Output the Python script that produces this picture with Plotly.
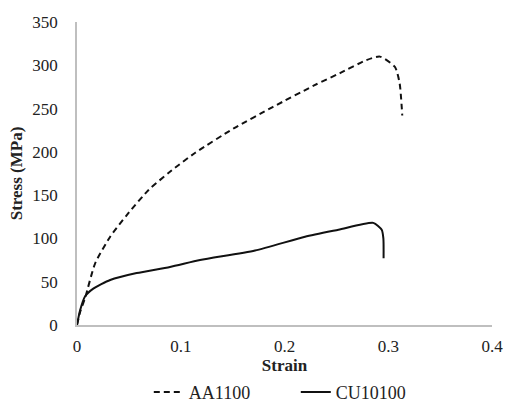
import plotly.graph_objects as go

# AA1100 (dashed)
aa_strain = [0, 0.003, 0.008, 0.0174, 0.032, 0.048, 0.069, 0.0896, 0.114, 0.151,
             0.189, 0.229, 0.2535, 0.279, 0.292, 0.3065, 0.311, 0.3135]
aa_stress = [0, 15, 32, 71, 102, 127, 156, 177, 199, 227,
             252, 277, 291, 306, 310, 298, 279, 242]

# CU10100 (solid)
cu_strain = [0, 0.003, 0.0077, 0.0157, 0.032, 0.0575, 0.0896, 0.1186, 0.1716,
             0.2198, 0.252, 0.2856, 0.2937, 0.2953, 0.2955]
cu_stress = [0, 17, 33, 42, 52, 60, 67, 75, 86,
             102, 110, 118, 110, 100, 77]

x_ticks = [0, 0.1, 0.2, 0.3, 0.4]
x_ticklabels = ["0", "0.1", "0.2", "0.3", "0.4"]
y_ticks = [0, 50, 100, 150, 200, 250, 300, 350]

FONT = "Liberation Serif, Times New Roman, serif"

fig = go.Figure()
fig.add_trace(go.Scatter(x=aa_strain, y=aa_stress, mode="lines", name="AA1100",
                         line=dict(color="#111111", width=2, dash="6px,4px", shape="spline", smoothing=0.6)))
fig.add_trace(go.Scatter(x=cu_strain, y=cu_stress, mode="lines", name="CU10100",
                         line=dict(color="#111111", width=2, shape="spline", smoothing=0.6)))

fig.update_layout(
    width=510, height=403,
    margin=dict(l=77, r=18, t=22, b=78, autoexpand=False),
    paper_bgcolor="white", plot_bgcolor="white",
    font=dict(family=FONT, size=17, color="#222222"),
    showlegend=True,
    legend=dict(orientation="h", x=0.173, xanchor="left", y=-0.222, yanchor="middle",
                font=dict(family=FONT, size=18, color="#222222"), entrywidth=102,
                entrywidthmode="pixels"),
    xaxis=dict(range=[0, 0.4], tickvals=x_ticks, ticktext=x_ticklabels, automargin=False,
               showgrid=False, zeroline=False, showline=True, linecolor="#bfbfbf", linewidth=1.5,
               ticks="", ticklabelstandoff=5,
               title=dict(text="<b>Strain</b>", standoff=0, font=dict(size=17))),
    yaxis=dict(range=[0, 350], tickvals=y_ticks, automargin=False,
               showgrid=False, zeroline=False, showline=True, linecolor="#bfbfbf", linewidth=1.5,
               ticks="", ticklabelstandoff=14,
               title=dict(text="<b>Stress (MPa)</b>", standoff=5, font=dict(size=17))),
)

fig.write_html("out.html", config={"displayModeBar": False},
               post_script="document.body.style.margin='0';document.body.style.overflow='hidden';")
